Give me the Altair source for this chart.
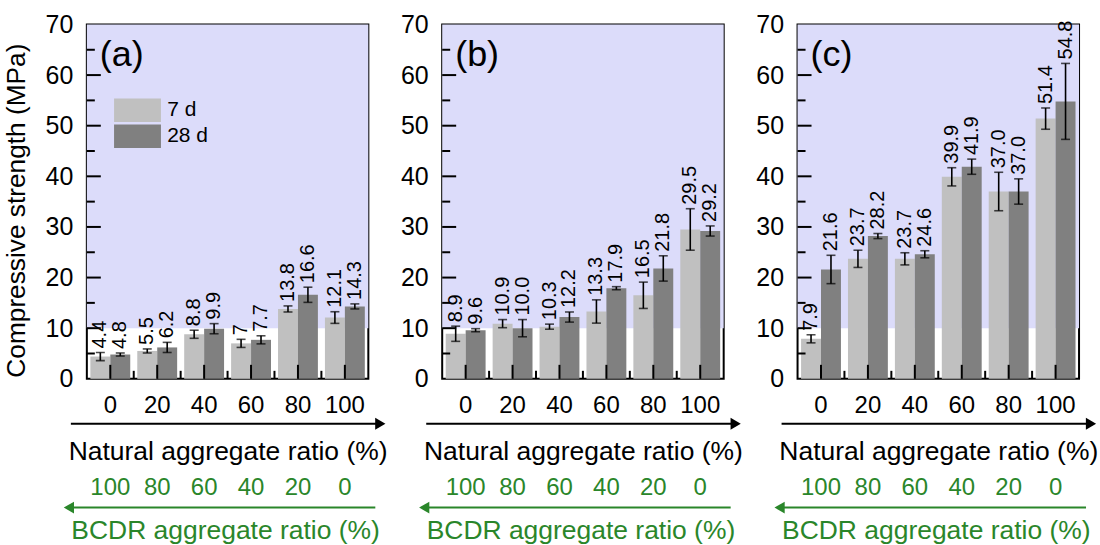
import altair as alt
import pandas as pd

FONT = "Liberation Sans"

ratios = [0, 20, 40, 60, 80, 100]
bcdr = [100, 80, 60, 40, 20, 0]
ages = ["7 d", "28 d"]

a_7d = [4.4, 5.5, 8.8, 7.0, 13.8, 12.1]
a_7d_err = [0.8, 0.4, 0.8, 0.8, 0.6, 1.15]
a_28d = [4.8, 6.2, 9.9, 7.7, 16.6, 14.3]
a_28d_err = [0.3, 1.0, 1.0, 0.8, 1.5, 0.5]

b_7d = [8.9, 10.9, 10.3, 13.3, 16.5, 29.5]
b_7d_err = [1.5, 0.8, 0.5, 2.3, 2.6, 4.1]
b_28d = [9.6, 10.0, 12.2, 17.9, 21.8, 29.2]
b_28d_err = [0.3, 1.7, 1.0, 0.3, 2.5, 1.0]

c_7d = [7.9, 23.7, 23.7, 39.9, 37.0, 51.4]
c_7d_err = [0.8, 1.7, 1.2, 1.8, 3.8, 2.1]
c_28d = [21.6, 28.2, 24.6, 41.9, 37.0, 54.8]
c_28d_err = [2.8, 0.5, 0.7, 1.5, 2.5, 7.5]

y_labels = [0, 10, 20, 30, 40, 50, 60, 70]
y_major = [10, 20, 30, 40, 50, 60]
y_minor = [5, 15, 25, 35, 45, 55, 65]
shade = [10, 70]

LIGHT = "#c0c0c0"
DARK = "#808080"
LAV = "#dcdcfa"
GREEN = "#2a862a"
W, H = 282, 355

one = pd.DataFrame({"k": [0]})


def panel(letter, v7, e7, v28, e28, fmt, first):
    rows = []
    for i, r in enumerate(ratios):
        rows.append(dict(ratio=r, age="7 d", value=v7[i], err=e7[i]))
        rows.append(dict(ratio=r, age="28 d", value=v28[i], err=e28[i]))
    df = pd.DataFrame(rows)
    df["lo"] = df["value"] - df["err"]
    df["hi"] = df["value"] + df["err"]
    df["label"] = df["value"].map(lambda v: format(v, fmt))

    xs = alt.Scale(domain=ratios, paddingInner=0.15, paddingOuter=0.075)
    ys = alt.Scale(domain=[0, 70], nice=False, zero=True)
    xo = alt.XOffset("age:N", scale=alt.Scale(domain=ages, paddingInner=0, paddingOuter=0))

    xaxis = alt.Axis(title="Natural aggregate ratio (%)", labelAngle=0, ticks=False, tickSize=0,
                     domain=False, labelFontSize=24, labelPadding=15, titleFontSize=26.5,
                     titlePadding=21, titleFontWeight="normal", grid=False)
    ykw = dict(values=y_labels, grid=False, ticks=False, tickSize=0, domain=False,
               labelFontSize=25, labelPadding=14)
    if first:
        yaxis = alt.Axis(title="Compressive strength (MPa)", titleFontSize=26.3,
                         titleFontWeight="normal", titlePadding=15, titleY=186, **ykw)
    else:
        yaxis = alt.Axis(title=None, **ykw)

    def X(field, **kw):
        return alt.X(field, scale=xs, axis=xaxis, **kw)

    def Y(field):
        return alt.Y(field, scale=ys, axis=yaxis)

    legend = None
    if first:
        legend = alt.Legend(orient="none", legendX=38.75, legendY=74, title=None,
                            symbolType="M-2,-1H2V1H-2Z", symbolSize=552,
                            symbolStrokeWidth=0, symbolOpacity=1, labelFontSize=21,
                            labelOffset=17.75, rowPadding=2, padding=0)

    layers = []
    if first:
        layers.append(alt.Chart(one).mark_rect(color="white", opacity=0).encode(
            x=alt.value(-86), x2=alt.value(1014), y=alt.value(-23), y2=alt.value(522)))

    layers.append(alt.Chart(pd.DataFrame({"y0": [shade[0]], "y1": [shade[1]]})).mark_rect(color=LAV).encode(
        y=Y("y0:Q"), y2="y1:Q", x=alt.value(0), x2=alt.value(W)))

    layers.append(alt.Chart(df).mark_bar().encode(
        x=X("ratio:O"),
        xOffset=xo,
        y=Y("value:Q"),
        color=alt.Color("age:N", scale=alt.Scale(domain=ages, range=[LIGHT, DARK]), legend=legend),
    ))

    layers.append(alt.Chart(df).mark_rule(color="black", strokeWidth=1.6).encode(
        x=X("ratio:O"), xOffset=xo, y=Y("lo:Q"), y2="hi:Q"))
    for fld in ["lo", "hi"]:
        layers.append(alt.Chart(df).mark_tick(color="black", thickness=1.6, size=9,
                                              orient="horizontal").encode(
            x=X("ratio:O"), xOffset=xo, y=Y(f"{fld}:Q")))

    layers.append(alt.Chart(df).mark_text(angle=270, align="left", baseline="middle", dx=4,
                                          fontSize=20, color="black").encode(
        x=X("ratio:O"), xOffset=xo, y=Y("hi:Q"), text="label:N"))

    # inward ticks
    layers.append(alt.Chart(pd.DataFrame({"t": y_major})).mark_rule(color="black", strokeWidth=2).encode(
        y=Y("t:Q"), x=alt.value(0), x2=alt.value(14)))
    layers.append(alt.Chart(pd.DataFrame({"t": y_minor})).mark_rule(color="black", strokeWidth=2).encode(
        y=Y("t:Q"), x=alt.value(0), x2=alt.value(8)))
    layers.append(alt.Chart(pd.DataFrame({"ratio": ratios})).mark_rule(color="black", strokeWidth=2).encode(
        x=X("ratio:O"), y=alt.value(H), y2=alt.value(H - 14)))
    layers.append(alt.Chart(pd.DataFrame({"ratio": ratios[:-1]})).mark_rule(
        color="black", strokeWidth=2, xOffset=3.5).encode(
        x=X("ratio:O", bandPosition=1), y=alt.value(H), y2=alt.value(H - 8)))

    # panel letter
    layers.append(alt.Chart(one).mark_text(text=letter, fontSize=36, align="left", baseline="middle",
                                           color="black").encode(x=alt.value(13), y=alt.value(31)))

    # black arrow
    layers.append(alt.Chart(one).mark_rule(color="black", strokeWidth=2).encode(
        x=alt.value(-16), x2=alt.value(W + 12), y=alt.value(H + 45)))
    layers.append(alt.Chart(one).mark_point(shape="triangle-right", filled=True, size=140,
                                            color="black", opacity=1).encode(
        x=alt.value(W + 12), y=alt.value(H + 45)))

    # green secondary scale
    layers.append(alt.Chart(pd.DataFrame({"ratio": ratios, "bcdr": bcdr})).mark_text(
        fontSize=24, color=GREEN, baseline="middle").encode(
        x=X("ratio:O"), y=alt.value(H + 109), text="bcdr:N"))
    layers.append(alt.Chart(one).mark_rule(color=GREEN, strokeWidth=2).encode(
        x=alt.value(-18), x2=alt.value(W + 7), y=alt.value(H + 129)))
    layers.append(alt.Chart(one).mark_point(shape="triangle-left", filled=True, size=140,
                                            color=GREEN, opacity=1).encode(
        x=alt.value(-18), y=alt.value(H + 129)))
    layers.append(alt.Chart(one).mark_text(text="BCDR aggregate ratio (%)", fontSize=26.5, color=GREEN,
                                           baseline="middle", align="center").encode(
        x=alt.value(W / 2 - 2), y=alt.value(H + 152)))

    return alt.layer(*layers).properties(width=W, height=H)


pa = panel("(a)", a_7d, a_7d_err, a_28d, a_28d_err, "g", True)
pb = panel("(b)", b_7d, b_7d_err, b_28d, b_28d_err, ".1f", False)
pc = panel("(c)", c_7d, c_7d_err, c_28d, c_28d_err, ".1f", False)

chart = alt.hconcat(pa, pb, pc, spacing=74, bounds="flush").resolve_scale(
    color="independent").properties(padding=0).configure(
    font=FONT).configure_view(stroke="black", strokeWidth=2).configure_axis(
    labelColor="black", titleColor="black", labelFont=FONT, titleFont=FONT).configure_legend(
    labelFont=FONT, labelColor="black")

chart.save("out.html", embed_options={"renderer": "svg", "actions": False})
